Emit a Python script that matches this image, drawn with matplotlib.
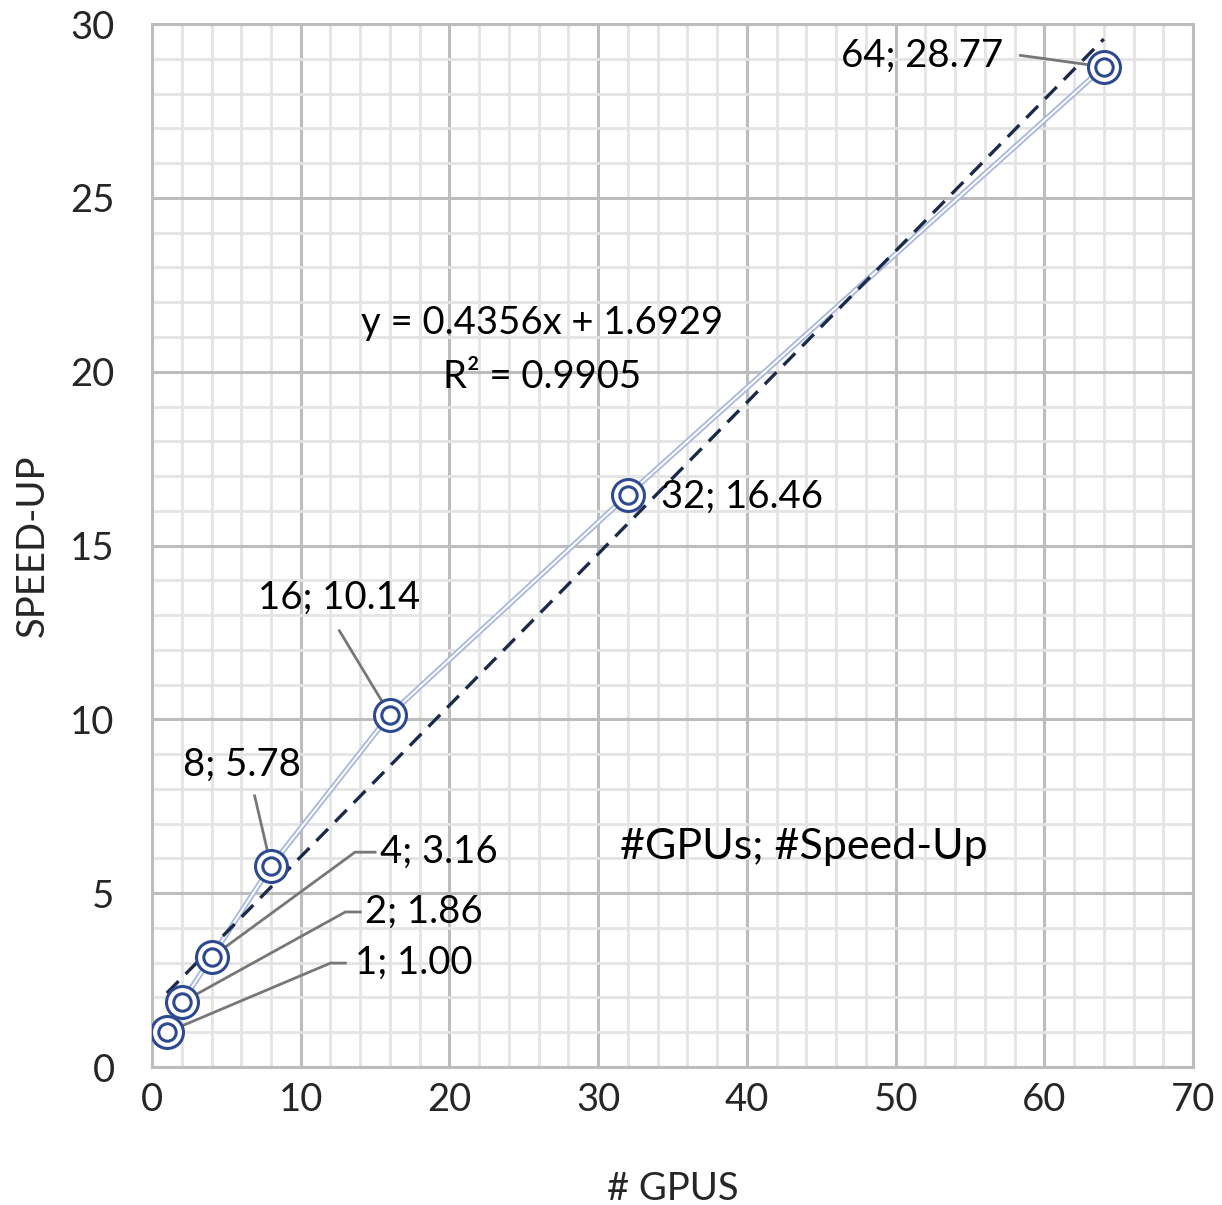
import matplotlib.pyplot as plt
from matplotlib.ticker import MultipleLocator

# speed-up measurements
gpus = [1, 2, 4, 8, 16, 32, 64]
speedup = [1.00, 1.86, 3.16, 5.78, 10.14, 16.46, 28.77]

# linear trendline as reported
slope = 0.4356
intercept = 1.6929
r2 = 0.9905

plt.rcParams['font.family'] = ['Lato', 'DejaVu Sans']

fig = plt.figure(figsize=(12.22, 12.05), dpi=100)
ax = fig.add_axes([0.1244, 0.1145, 0.8519, 0.8655])

ax.set_xlim(0, 70)
ax.set_ylim(0, 30)
ax.xaxis.set_major_locator(MultipleLocator(10))
ax.xaxis.set_minor_locator(MultipleLocator(2))
ax.yaxis.set_major_locator(MultipleLocator(5))
ax.yaxis.set_minor_locator(MultipleLocator(1))
ax.grid(which='minor', color='#e4e4e4', lw=2.0)
ax.grid(which='major', color='#bdbdbd', lw=2.2)
ax.set_axisbelow(True)
for s in ax.spines.values():
    s.set_color('#bdbdbd')
    s.set_linewidth(2.2)
ax.tick_params(which='both', length=0, labelsize=27.5, colors='#262626')
ax.tick_params(axis='y', pad=27)
ax.tick_params(axis='x', pad=11)

# series line (double stroke look)
ax.plot(gpus, speedup, color='#a8b8dc', lw=4.0, zorder=3, solid_capstyle='round')
ax.plot(gpus, speedup, color='white', lw=1.4, zorder=3.1)

# trendline
tx = [gpus[0], gpus[-1]]
ty = [slope * v + intercept for v in tx]
ax.plot(tx, ty, color='#1c2a4a', lw=2.4, ls=(0, (5, 3)), zorder=4)

# leader lines for data labels
lc = '#777777'
leaders = [
    ([64, 58.4], [28.77, 29.1]),
    ([16, 12.6], [10.14, 12.55]),
    ([8, 6.9], [5.78, 7.8]),
    ([4, 13.65, 15.0], [3.16, 6.18, 6.18]),
    ([2, 13.0, 14.0], [1.86, 4.46, 4.46]),
    ([1, 12.0, 13.0], [1.00, 2.99, 2.99]),
]
for lx, ly in leaders:
    ax.plot(lx, ly, color=lc, lw=2.0, zorder=5)

# double-circle markers
ax.plot(gpus, speedup, ls='none', marker='o', ms=23, mfc='white',
        mec='#2e4a8e', mew=2.2, zorder=6)
ax.plot(gpus, speedup, ls='none', marker='o', ms=12.5, mfc='white',
        mec='#2e4a8e', mew=2.2, zorder=7)

fs = 27.5
lab = [
    (51.8, 29.1, 'center'),
    (34.2, 16.4, 'left'),
    (12.6, 13.5, 'center'),
    (6.05, 8.69, 'center'),
    (15.3, 6.18, 'left'),
    (14.3, 4.46, 'left'),
    (13.65, 2.99, 'left'),
]
for (x, y, ha), g, s in zip(lab, gpus[::-1], speedup[::-1]):
    ax.text(x, y, f'{g}; {s:.2f}', fontsize=fs, ha=ha, va='center',
            color='black', zorder=8)

ax.text(26.2, 21.4, f'y = {slope:.4f}x + {intercept:.4f}', fontsize=fs,
        ha='center', va='center', color='black')
ax.text(26.2, 19.84, f'R² = {r2:.4f}', fontsize=fs,
        ha='center', va='center', color='black')
ax.text(43.8, 6.33, '#GPUs; #Speed-Up', fontsize=31, ha='center',
        va='center', color='black')

ax.set_xlabel('# GPUS', fontsize=27.5, color='#262626', labelpad=38)
ax.set_ylabel('SPEED-UP', fontsize=27.5, color='#262626', labelpad=14)

fig.savefig('out.png', dpi=100)
